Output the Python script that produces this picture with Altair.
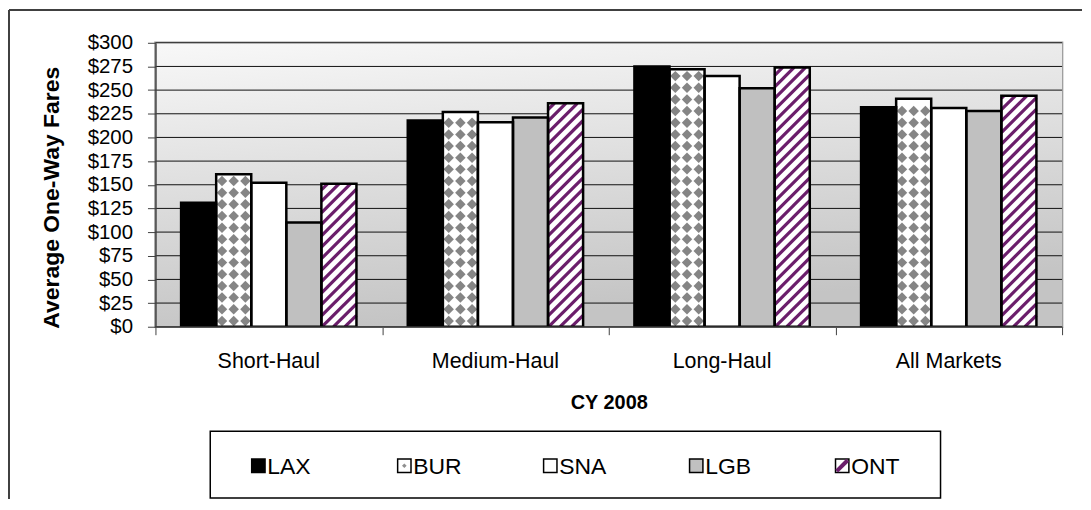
import altair as alt
import pandas as pd

# ---------------- data ----------------
categories = ["Short-Haul", "Medium-Haul", "Long-Haul", "All Markets"]
airports = ["LAX", "BUR", "SNA", "LGB", "ONT"]
lax = [131, 218, 275, 232]
bur = [161, 227, 272, 241]
sna = [152, 216, 265, 231]
lgb = [110, 221, 252, 228]
ont = [151, 236, 274, 244]
y_ticks = list(range(0, 301, 25))
x_title = "CY 2008"
y_title = "Average One-Way Fares"

series = {"LAX": lax, "BUR": bur, "SNA": sna, "LGB": lgb, "ONT": ont}
fills = ["#000000", "#ffffff", "#ffffff", "#c0c0c0", "#ffffff"]
FONT = "Liberation Sans, Arial, sans-serif"

# ---------------- layout helpers ----------------
W, H = 910, 285
PXX = W / 4.0          # px per category unit
PXY = H / 300.0        # px per dollar
BW = 35.2 / PXX        # bar width in category units
START = 0.5 - 2.5 * BW

rows = []
for ci, cat in enumerate(categories):
    for ai, ap in enumerate(airports):
        x0 = ci + START + ai * BW
        rows.append(dict(category=cat, airport=ap, x0=x0, x1=x0 + BW,
                         value=series[ap][ci], base=0))
bars = pd.DataFrame(rows)
cats = pd.DataFrame({"category": categories,
                     "xc": [i + 0.5 for i in range(len(categories))]})

# diamond pattern (BUR)
S = 11.7
D = 10.5
dia = []
for ci, v in enumerate(bur):
    xl = ci + START + 1 * BW
    vpx = v * PXY
    r = 0
    while (r + 0.5) * S + D / 2 <= vpx + 2:
        for c in range(3):
            dia.append(dict(x=xl + (c + 0.5) * BW / 3, y=(r + 0.5) * S / PXY))
        r += 1
dia_df = pd.DataFrame(dia)

# stripe pattern (ONT)
P = 11.5
wpx = BW * PXX
st = []
for ci, v in enumerate(ont):
    xl = ci + START + 4 * BW
    vpx = v * PXY
    h0 = -wpx
    while h0 < vpx:
        xs_ = max(0.0, -h0)
        xe_ = min(wpx, vpx - h0)
        if xe_ > xs_:
            st.append(dict(x=xl + xs_ / PXX, x2=xl + xe_ / PXX,
                           y=(h0 + xs_) / PXY, y2=(h0 + xe_) / PXY))
        h0 += P
st_df = pd.DataFrame(st)

# ---------------- scales / axes ----------------
xs = alt.Scale(domain=[0, 4], nice=False, zero=False)
ys = alt.Scale(domain=[0, 300], nice=False, zero=True)
cs = alt.Scale(domain=airports, range=fills)

x_axis = alt.Axis(
    values=[0, 1, 2, 3, 4], labels=False,
    tickSize=8, tickColor="#404040", tickWidth=1,
    domainColor="#555555", domainWidth=1.5,
    grid=False, title=x_title, titleFontSize=20, titleFontWeight="bold",
    titleFont=FONT, titlePadding=58, titleColor="#000000", zindex=1,
)
y_axis = alt.Axis(
    values=y_ticks, labelExpr="'$' + datum.value",
    tickSize=8, tickColor="#404040", domainColor="#404040", domainWidth=1.5,
    labelFontSize=20.5, labelFont=FONT, labelPadding=15, labelColor="#000000",
    grid=False,
    title=y_title, titleFontSize=23, titleFontWeight="bold", titleFont=FONT,
    titlePadding=24, titleColor="#000000", titleY=155, zindex=1,
)


def X(field):
    return alt.X(field, scale=xs, axis=x_axis)


def Y(field):
    return alt.Y(field, scale=ys, axis=y_axis)


one = pd.DataFrame({"a": [0]})

grad = alt.LinearGradient(
    gradient="linear",
    stops=[alt.GradientStop(color="#f8f8f8", offset=0),
           alt.GradientStop(color="#c4c4c4", offset=1)],
    x1=0, y1=0, x2=0.25, y2=1,
)
background = alt.Chart(one).mark_rect(color=grad).encode(
    x=alt.value(0), x2=alt.value(W), y=alt.value(0), y2=alt.value(H)
)

grid = alt.Chart(pd.DataFrame({"v": y_ticks})).mark_rule(
    color="#111111", strokeWidth=1
).encode(y=Y("v:Q"))

bar_fill = alt.Chart(bars).mark_rect(strokeWidth=0).encode(
    x=X("x0:Q"), x2="x1:Q",
    y=Y("value:Q"), y2="base:Q",
    color=alt.Color("airport:N", scale=cs, legend=None),
)

diamonds = alt.Chart(dia_df).mark_point(
    shape="diamond", filled=True, size=D * D, color="#858585", opacity=1
).encode(x=X("x:Q"), y=Y("y:Q"))

stripes = alt.Chart(st_df).mark_rule(
    color="#6b1e6b", strokeWidth=3.2, strokeCap="butt"
).encode(x=X("x:Q"), x2="x2:Q", y=Y("y:Q"), y2="y2:Q")

outline = alt.Chart(bars).mark_rect(
    fillOpacity=0, stroke="#000000", strokeWidth=2.5
).encode(x=X("x0:Q"), x2="x1:Q", y=Y("value:Q"), y2="base:Q")

cat_labels = alt.Chart(cats).mark_text(
    baseline="middle", align="center", fontSize=21.5, font=FONT, color="#000000"
).encode(x=X("xc:Q"), y=alt.value(H + 35), text="category:N")

# ---------------- legend (drawn in pixels below the plot) ----------------
LEG_Y = 424.5
LEG_X0 = 103.3
LEG_DX = 146.5
leg_layers = [
    alt.Chart(one).mark_rect(fill="#ffffff", stroke="#000000", strokeWidth=1.5).encode(
        x=alt.value(55), x2=alt.value(788), y=alt.value(390), y2=alt.value(457)
    )
]
for i, ap in enumerate(airports):
    cx = LEG_X0 + LEG_DX * i
    leg_layers.append(
        alt.Chart(one).mark_square(size=180, fill=fills[i], stroke="#000000",
                                   strokeWidth=1.5, opacity=1).encode(
            x=alt.value(cx), y=alt.value(LEG_Y))
    )
    if ap == "BUR":
        leg_layers.append(
            alt.Chart(one).mark_point(shape="diamond", filled=True, size=22,
                                      color="#909090", opacity=1).encode(
                x=alt.value(cx), y=alt.value(LEG_Y))
        )
    if ap == "ONT":
        leg_layers.append(
            alt.Chart(one).mark_rule(color="#6b1e6b", strokeWidth=4).encode(
                x=alt.value(cx - 5.5), x2=alt.value(cx + 5.5),
                y=alt.value(LEG_Y + 5.5), y2=alt.value(LEG_Y - 5.5))
        )
    leg_layers.append(
        alt.Chart(one).mark_text(align="left", baseline="middle", fontSize=23,
                                 font=FONT, color="#000000", text=ap).encode(
            x=alt.value(cx + 9), y=alt.value(LEG_Y + 1))
    )

# outer frame (top and left); also anchors the page layout
frame_top = alt.Chart(one).mark_rule(color="#404040", strokeWidth=2).encode(
    x=alt.value(-147), x2=alt.value(930), y=alt.value(-33)
)
frame_left = alt.Chart(one).mark_rule(color="#404040", strokeWidth=2).encode(
    x=alt.value(-147), y=alt.value(-33), y2=alt.value(458)
)

chart = alt.layer(
    background, grid, bar_fill, diamonds, stripes, outline, cat_labels,
    *leg_layers,
    frame_top, frame_left,
).properties(
    width=W, height=H, padding=0,
).configure_view(
    stroke="#999999", strokeWidth=2.5
)

chart.save("out.html", embed_options={"renderer": "svg", "actions": False})
